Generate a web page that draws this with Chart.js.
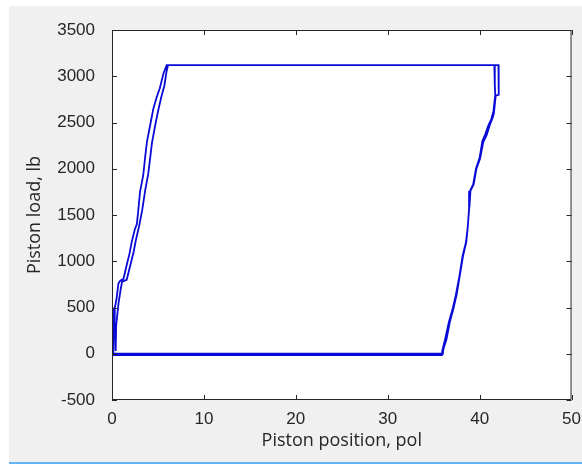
<!DOCTYPE html>
<html>
<head>
<meta charset="utf-8">
<script src="https://cdn.jsdelivr.net/npm/chart.js@4"></script>
<style>
  html, body { margin: 0; padding: 0; background: #ffffff; }
  #wrap { width: 582px; height: 464px; }
</style>
</head>
<body>
<div id="wrap"><canvas id="plot" width="582" height="464"></canvas></div>
<script>
// tick labels
const xTicks = [0, 10, 20, 30, 40, 50];
const yTicks = [-500, 0, 500, 1000, 1500, 2000, 2500, 3000, 3500];

// first pass (outer trace): piston position (pol) and load (lb)
const posA = [0.15, 0.15, 0.3, 0.3, 0.5, 0.7, 0.9, 1.25, 1.6, 1.9, 2.15, 2.5, 2.7, 2.85, 3.05, 3.4, 3.6, 3.8, 4.15, 4.5, 4.85, 5.2, 5.6, 5.95,
  41.5, 42.05, 42.1, 42.05, 41.75, 41.55, 41.45, 41.1, 40.75, 40.4, 40.05, 39.65, 39.35, 39.0, 38.9, 38.85, 38.7, 38.55, 38.2, 37.85, 37.5, 37.15, 36.75, 36.4, 36.05, 36.0, 0.15];
const loadA = [0, 380, 380, 490, 600, 760, 790, 810, 960, 1080, 1210, 1350, 1400, 1540, 1750, 1930, 2120, 2290, 2470, 2650, 2770, 2870, 3030, 3120,
  3120, 3120, 2980, 2800, 2790, 2600, 2560, 2470, 2360, 2290, 2110, 2000, 1830, 1760, 1600, 1560, 1360, 1210, 1060, 850, 640, 490, 340, 160, 50, 0, 0];

// second pass (inner trace)
const posB = [0.15, 0.05, 0.1, 0.25, 0.4, 0.45, 0.7, 0.95, 1.1, 1.6, 2.0, 2.35, 2.6, 2.95, 3.3, 3.6, 3.95, 4.35, 4.7, 5.05, 5.35, 5.7, 5.95, 6.1,
  41.6, 41.65, 41.7, 41.5, 41.25, 40.95, 40.6, 40.3, 40.0, 39.6, 39.3, 38.95, 38.85, 38.7, 38.5, 38.15, 37.8, 37.4, 37.05, 36.65, 36.25, 35.95, 35.9, 0.1, 0.1];
const loadB = [0, 500, 60, 420, 30, 300, 540, 700, 780, 800, 960, 1100, 1230, 1380, 1560, 1760, 1950, 2280, 2470, 2640, 2770, 2900, 3060, 3120,
  3120, 2900, 2800, 2620, 2530, 2470, 2370, 2300, 2120, 2000, 1830, 1760, 1570, 1360, 1200, 1060, 840, 630, 480, 340, 160, 40, -15, -15, 0];

function toPoints(xs, ys) {
    return xs.map((x, i) => ({ x: x, y: ys[i] }));
}
const loopData = toPoints(posA, loadA).concat(toPoints(posB, loadB));

// gray figure panel, white axes, box and inward ticks like the original figure
const framePlugin = {
    id: 'frame',
    beforeDraw(chart) {
        const { ctx, chartArea: a, width: w, height: h } = chart;
        ctx.save();
        ctx.fillStyle = '#ffffff';
        ctx.fillRect(0, 0, w, h);
        ctx.fillStyle = '#f0f0f0';
        ctx.fillRect(9, 6, w - 9, h - 8);
        ctx.fillStyle = '#ffffff';
        ctx.fillRect(a.left, a.top, a.right - a.left, a.bottom - a.top);
        ctx.fillStyle = '#66b3f2';
        ctx.fillRect(9, h - 2, w - 9, 2);
        ctx.restore();
    },
    afterDatasetsDraw(chart) {
        const { ctx, chartArea: a, scales } = chart;
        const len = 5;
        ctx.save();
        ctx.strokeStyle = '#262626';
        ctx.lineWidth = 1;
        ctx.beginPath();
        ctx.rect(a.left + 0.5, a.top + 0.5, a.right - a.left - 1, a.bottom - a.top - 1);
        scales.x.ticks.forEach(t => {
            const px = Math.round(scales.x.getPixelForValue(t.value)) + 0.5;
            ctx.moveTo(px, a.bottom); ctx.lineTo(px, a.bottom - len);
            ctx.moveTo(px, a.top); ctx.lineTo(px, a.top + len);
        });
        scales.y.ticks.forEach(t => {
            const py = Math.round(scales.y.getPixelForValue(t.value)) + 0.5;
            ctx.moveTo(a.left, py); ctx.lineTo(a.left + len, py);
            ctx.moveTo(a.right, py); ctx.lineTo(a.right - len, py);
        });
        ctx.stroke();
        ctx.restore();
    }
};

const tickFont = { family: '"Liberation Sans", Arial, sans-serif', size: 17 };
const titleFont = { family: '"Open Sans", "Noto Sans", sans-serif', size: 18 };

new Chart(document.getElementById('plot').getContext('2d'), {
    type: 'scatter',
    data: {
        datasets: [{
            data: loopData,
            showLine: true,
            borderColor: '#0a0ad8',
            borderWidth: 1.8,
            pointRadius: 0,
            tension: 0,
            fill: false
        }]
    },
    options: {
        responsive: false,
        animation: false,
        layout: { padding: { left: 0, top: 30, right: 10, bottom: 0 } },
        plugins: { legend: { display: false }, tooltip: { enabled: false } },
        scales: {
            x: {
                type: 'linear',
                min: 0, max: 50,
                afterFit: s => { s.height = 64; },
                afterBuildTicks: s => { s.ticks = xTicks.map(v => ({ value: v })); },
                grid: { display: false },
                border: { display: false },
                ticks: { font: tickFont, color: '#262626', padding: 1, maxRotation: 0, callback: v => String(v) },
                title: { display: true, text: 'Piston position, pol', font: titleFont, color: '#262626', padding: { top: 0, bottom: 12 } }
            },
            y: {
                type: 'linear',
                min: -500, max: 3500,
                afterFit: s => { s.width = 112; },
                afterBuildTicks: s => { s.ticks = yTicks.map(v => ({ value: v })); },
                grid: { display: false },
                border: { display: false },
                ticks: { font: tickFont, color: '#262626', padding: 9, callback: v => String(v) },
                title: { display: true, text: 'Piston load, lb', font: titleFont, color: '#262626', padding: { top: 24, bottom: 0 } }
            }
        }
    },
    plugins: [framePlugin]
});
</script>
</body>
</html>
